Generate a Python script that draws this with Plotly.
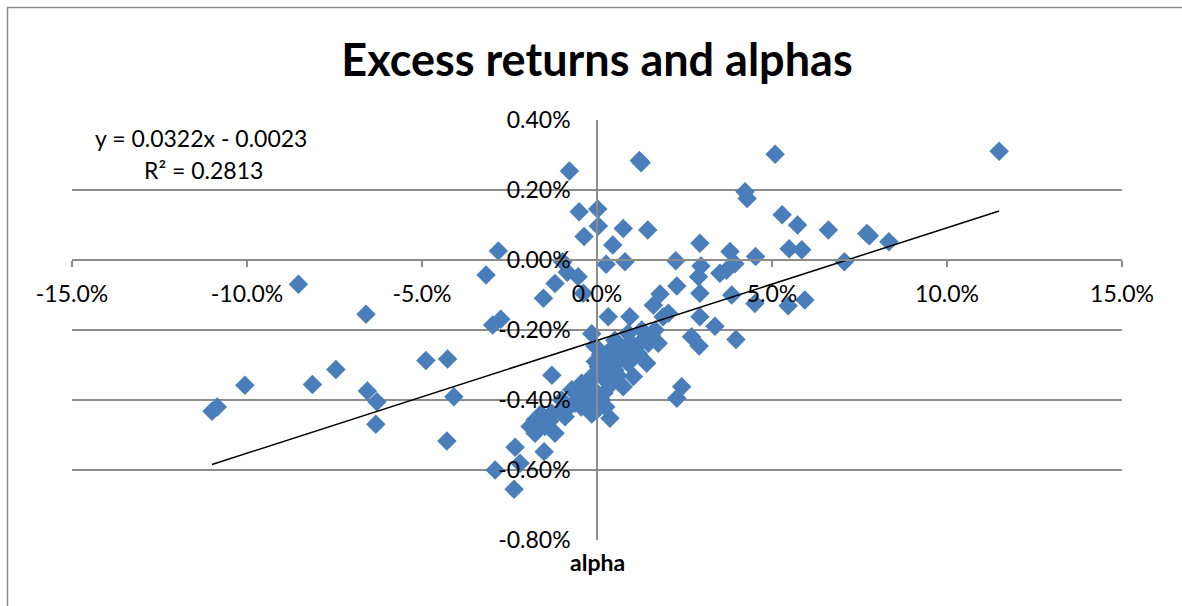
import plotly.graph_objects as go

# ---- data (values in percent) ----
alpha_pct = [
    -8.53, -11.00, -10.85, -10.06, -8.13, -7.46, -6.60, -6.56, -6.29, -6.32, -4.89, -4.27, -4.09, -4.29,
    -0.79, -0.51, 0.02, 0.04, -0.37, 0.75, 0.45, -2.82, -3.17, -0.98, 0.26, -0.54, -1.20, -1.53, -0.39,
    -2.98, -2.75, 0.32, -0.15, -0.06, -1.29, -0.85,
    1.21, 1.26, 4.23, 4.29, 1.45, 2.94, 0.80, 2.25, 3.80, 4.53, 2.97, 3.94, 3.51, 3.70, 2.90,
    5.09, 11.49, 5.29, 5.73, 6.61, 7.71, 7.78, 8.34, 5.49, 5.85, 7.07,
    2.28, 1.80, 3.85, 4.51, 2.94, 2.94, 3.37, 3.97, 2.70, 2.92, 1.61, 2.04, 1.89, 0.94, 2.42, 2.28, 5.46, 5.94,
    -2.34, -1.51, -2.91, -2.20, -2.37, 0.37, -0.01,
    0.51, 0.89, 1.28, 1.66, 1.75, 1.42, 1.04, 0.75, 0.13, -0.06, 0.04, 0.32, 0.71, -0.44, -0.72, -0.63,
    -1.01, -0.91, -1.29, -1.77, -1.91, -1.77, -1.20, -1.49, -0.34, -0.15, 0.23, 0.51, 0.89, 1.18, 1.47,
    -1.60, -1.35, -1.05, -0.80, -0.50, -0.30, -0.10, 0.10, 0.30, 0.60, 0.80, 1.00, 1.30, 0.45, 0.20,
    -0.20, -0.45, 0.60, 1.00, -1.70, -0.15, 0.25, 0.10, -0.05, 1.55, 0.40,
]
excess_pct = [
    -0.069, -0.432, -0.420, -0.358, -0.356, -0.313, -0.155, -0.374, -0.405, -0.469, -0.287, -0.283, -0.391, -0.517,
    0.254, 0.138, 0.146, 0.097, 0.067, 0.090, 0.043, 0.026, -0.043, -0.005, -0.012, -0.048, -0.067, -0.109, -0.095,
    -0.186, -0.169, -0.162, -0.211, -0.246, -0.329, -0.035,
    0.284, 0.278, 0.195, 0.176, 0.086, 0.048, -0.005, -0.002, 0.024, 0.010, -0.017, -0.011, -0.038, -0.029, -0.048,
    0.302, 0.311, 0.129, 0.100, 0.086, 0.076, 0.069, 0.052, 0.032, 0.029, -0.005,
    -0.074, -0.097, -0.100, -0.124, -0.095, -0.162, -0.189, -0.227, -0.219, -0.246, -0.129, -0.152, -0.162, -0.162, -0.362, -0.395, -0.131, -0.114,
    -0.535, -0.548, -0.600, -0.581, -0.655, -0.452, -0.429,
    -0.229, -0.209, -0.200, -0.200, -0.238, -0.295, -0.333, -0.362, -0.400, -0.424, -0.305, -0.276, -0.267, -0.352, -0.371, -0.409,
    -0.400, -0.448, -0.438, -0.457, -0.476, -0.495, -0.495, -0.476, -0.391, -0.333, -0.343, -0.314, -0.295, -0.267, -0.238,
    -0.440, -0.460, -0.430, -0.420, -0.380, -0.360, -0.370, -0.320, -0.300, -0.290, -0.250, -0.240, -0.230, -0.350, -0.380,
    -0.400, -0.420, -0.330, -0.280, -0.480, -0.440, -0.420, -0.270, -0.290, -0.215, -0.255,
]

# trendline coefficients (as shown on the chart)
trend_slope = 0.0322
trend_intercept = -0.0023

x_tickvals = [-0.15, -0.10, -0.05, 0.0, 0.05, 0.10, 0.15]
x_ticktext = ["-15.0%", "-10.0%", "-5.0%", "0.0%", "5.0%", "10.0%", "15.0%"]
y_tickvals = [-0.008, -0.006, -0.004, -0.002, 0.0, 0.002, 0.004]
y_ticktext = ["-0.80%", "-0.60%", "-0.40%", "-0.20%", "0.00%", "0.20%", "0.40%"]

title_text = "Excess returns and alphas"
x_title = "alpha"
eq_text = "y = 0.0322x - 0.0023"
r2_text = "R² = 0.2813"

# ---- build ----
alpha = [v / 100 for v in alpha_pct]
excess = [v / 100 for v in excess_pct]
tx = [min(alpha), max(alpha)]
ty = [trend_slope * v + trend_intercept for v in tx]

FONT = "Lato"
GRID = "#8c8c8c"
FS = 23

fig = go.Figure()
fig.add_trace(go.Scatter(
    x=alpha, y=excess, mode="markers",
    marker=dict(symbol="diamond", size=15, color="#4A7EBB", line=dict(width=0)),
    showlegend=False, hoverinfo="x+y",
))
fig.add_trace(go.Scatter(
    x=tx, y=ty, mode="lines", line=dict(color="black", width=1.5),
    showlegend=False, hoverinfo="skip",
))

W, H = 1182, 606
L, T = 72, 120
pw, ph = 1050, 420
R, B = W - L - pw, H - T - ph

def px_x(px):  # page pixel -> paper fraction
    return (px - L) / pw

def px_y(py):
    return (T + ph - py) / ph

fig.update_layout(
    width=W, height=H,
    margin=dict(l=L, r=R, t=T, b=B, pad=0),
    paper_bgcolor="white", plot_bgcolor="white",
    font=dict(family=FONT, size=FS, color="black"),
    title=dict(text="<b>" + title_text + "</b>", x=0.5, xref="paper", xanchor="center",
               y=1 - 60 / H, yref="container", yanchor="middle",
               font=dict(family=FONT, size=45, color="black")),
    xaxis=dict(range=[-0.15, 0.15], tickvals=x_tickvals, ticktext=x_ticktext,
               showgrid=False, zeroline=False, showline=True, linecolor=GRID, linewidth=1.5,
               ticks="outside", ticklen=6, tickcolor=GRID, tickwidth=1.5,
               anchor="free", position=2 / 3, ticklabelstandoff=8,
               tickfont=dict(family=FONT, size=FS, color="black")),
    yaxis=dict(range=[-0.008, 0.004], tickvals=y_tickvals, ticktext=y_ticktext,
               showgrid=True, gridcolor=GRID, gridwidth=1.5, zeroline=False,
               showline=True, linecolor=GRID, linewidth=1.5,
               ticks="", anchor="free", position=0.5, ticklabelstandoff=21,
               tickfont=dict(family=FONT, size=FS, color="black")),
    shapes=[dict(type="rect", xref="paper", yref="paper",
                 x0=px_x(7.5), x1=px_x(1240), y0=px_y(660), y1=px_y(7.5),
                 line=dict(color=GRID, width=1.5), fillcolor="rgba(0,0,0,0)", layer="below")],
    annotations=[
        dict(text=eq_text, xref="paper", yref="paper", x=px_x(201), y=px_y(138),
             xanchor="center", yanchor="middle", showarrow=False,
             font=dict(family=FONT, size=FS, color="black")),
        dict(text=r2_text, xref="paper", yref="paper", x=px_x(203), y=px_y(170),
             xanchor="center", yanchor="middle", showarrow=False,
             font=dict(family=FONT, size=FS, color="black")),
        dict(text="<b>" + x_title + "</b>", xref="paper", yref="paper", x=0.5, y=px_y(562),
             xanchor="center", yanchor="middle", showarrow=False,
             font=dict(family=FONT, size=FS, color="black")),
    ],
)

fig.write_html(
    "out.html",
    config={"displayModeBar": False},
    post_script="document.body.style.margin='0';document.body.style.overflow='hidden';",
)
